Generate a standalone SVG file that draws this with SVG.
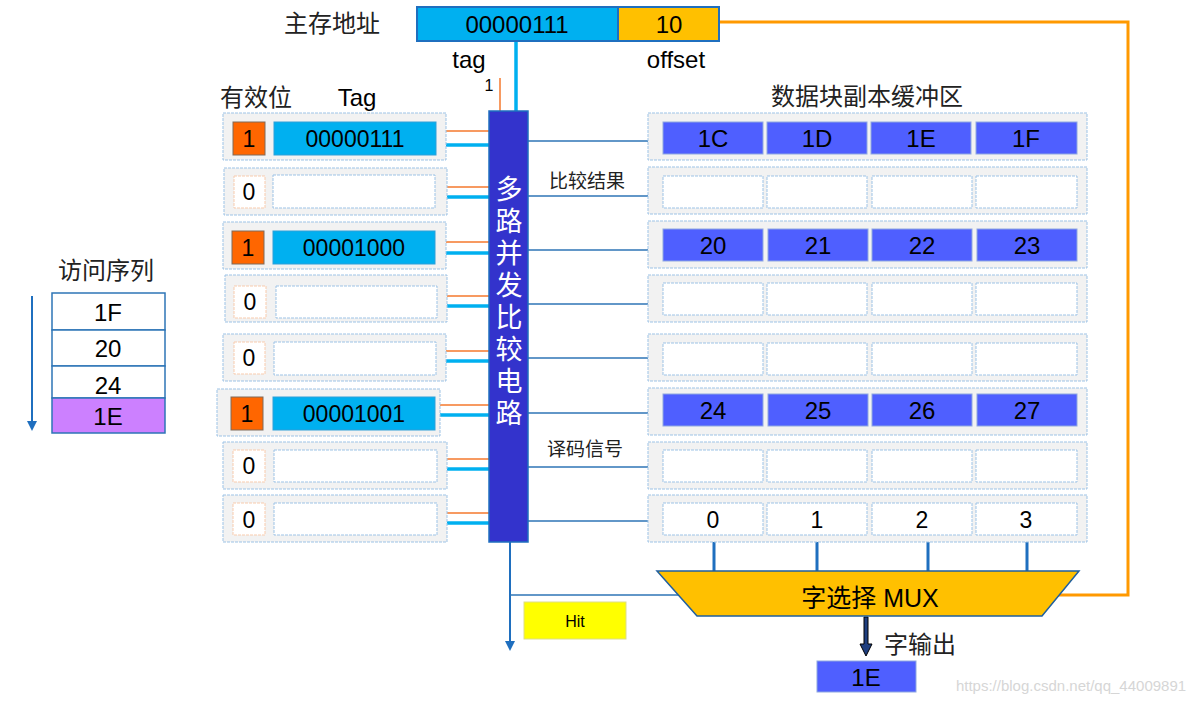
<svg xmlns="http://www.w3.org/2000/svg" width="1201" height="703" viewBox="0 0 1201 703">
<defs>
<style>
text{font-family:"Liberation Sans","Noto Sans CJK SC",sans-serif;fill:#000}
.row{fill:#F2F2F2;stroke:#9DC3E6;stroke-width:1;stroke-dasharray:3 1}
.v1{fill:#FF6600;stroke:#7F6A5A;stroke-width:1}
.v0{fill:#fff;stroke:#F8CBAD;stroke-width:1;stroke-dasharray:3 1}
.tg{fill:#00B0F0;stroke:#2E9FD8;stroke-width:1}
.te{fill:#fff;stroke:#9DC3E6;stroke-width:1;stroke-dasharray:3 1}
.db{fill:#4F5FFF;stroke:#8FA8E0;stroke-width:1}
.de{fill:#fff;stroke:#9DC3E6;stroke-width:1;stroke-dasharray:3 1}
.t20{font-size:23px;text-anchor:middle}
.t22{font-size:24px;text-anchor:middle}
.or{stroke:#F4782C;stroke-width:1.5;fill:none}
.cy{stroke:#00B0F0;stroke-width:3.5;fill:none}
.bl{stroke:#2E75B6;stroke-width:1.5;fill:none}
.cn{font-size:24px;fill:#222;text-anchor:middle}
.sm{font-size:19px;fill:#222;text-anchor:middle}
.w{font-size:27px;fill:#fff;text-anchor:middle}
.wm{font-size:15px;fill:#D6D6D6;text-anchor:middle}
</style>
<marker id="ah" markerWidth="10" markerHeight="10" refX="5" refY="5" orient="auto" markerUnits="userSpaceOnUse">
<path d="M0,0 L10,5 L0,10 z" fill="#1F6FBF"/>
</marker>
</defs>
<rect width="1201" height="703" fill="#fff"/>

<!-- connectors -->
<g id="connectors">
<line class="cy" x1="516" y1="41" x2="516" y2="112" stroke-width="3"/>
<line class="or" x1="500" y1="78" x2="500" y2="112"/>
<polyline points="719,22 1128,22 1128,595 1056,595" fill="none" stroke="#FF9900" stroke-width="3"/>
<g>
<line class="or" x1="436" y1="131" x2="489" y2="131"/><line class="cy" x1="436" y1="145" x2="489" y2="145"/>
<line class="or" x1="436" y1="187" x2="489" y2="187"/><line class="cy" x1="436" y1="197" x2="489" y2="197"/>
<line class="or" x1="436" y1="242" x2="489" y2="242"/><line class="cy" x1="436" y1="253" x2="489" y2="253"/>
<line class="or" x1="436" y1="296" x2="489" y2="296"/><line class="cy" x1="436" y1="306" x2="489" y2="306"/>
<line class="or" x1="436" y1="351" x2="489" y2="351"/><line class="cy" x1="436" y1="361" x2="489" y2="361"/>
<line class="or" x1="436" y1="405" x2="489" y2="405"/><line class="cy" x1="436" y1="415" x2="489" y2="415"/>
<line class="or" x1="436" y1="459" x2="489" y2="459"/><line class="cy" x1="436" y1="469" x2="489" y2="469"/>
<line class="or" x1="436" y1="513" x2="489" y2="513"/><line class="cy" x1="436" y1="523" x2="489" y2="523"/>
</g>
<g>
<line class="bl" x1="528" y1="141" x2="663" y2="141"/>
<line class="bl" x1="528" y1="196" x2="663" y2="196"/>
<line class="bl" x1="528" y1="250" x2="663" y2="250"/>
<line class="bl" x1="528" y1="304" x2="663" y2="304"/>
<line class="bl" x1="528" y1="358" x2="661" y2="358"/>
<line class="bl" x1="528" y1="413" x2="661" y2="413"/>
<line class="bl" x1="528" y1="467" x2="663" y2="467"/>
<line class="bl" x1="528" y1="521" x2="661" y2="521"/>
</g>
<g stroke="#1F6FBF" stroke-width="3">
<line x1="714" y1="542" x2="714" y2="571"/>
<line x1="817" y1="542" x2="817" y2="571"/>
<line x1="928" y1="542" x2="928" y2="571"/>
<line x1="1027" y1="542" x2="1027" y2="571"/>
</g>
<line x1="510" y1="542" x2="510" y2="646" stroke="#1F6FBF" stroke-width="2" marker-end="url(#ah)"/>
<line x1="510" y1="595" x2="690" y2="595" class="bl"/>
<line x1="32" y1="296" x2="32" y2="426" stroke="#1F6FBF" stroke-width="2" marker-end="url(#ah)"/>
<path d="M864,617 L868,617 L868,644 L872,644 L866,656 L860,644 L864,644 Z" fill="#1F3F7F" stroke="#000" stroke-width="1"/>
</g>

<g id="address">
<text x="332" y="32" class="cn">主存地址</text>
<rect x="417" y="7" width="201" height="34" fill="#00B0F0" stroke="#1F6FBF" stroke-width="2"/>
<rect x="618" y="7" width="101" height="34" fill="#FFC000" stroke="#1F6FBF" stroke-width="2"/>
<text x="517" y="33" class="t22">00000111</text>
<text x="669" y="33" class="t22">10</text>
<text x="469" y="68" class="t22">tag</text>
<text x="676" y="68" class="t22">offset</text>
<text x="489" y="91" font-size="16" text-anchor="middle">1</text>
</g>

<g id="headers">
<text x="256" y="106" class="cn">有效位</text>
<text x="357" y="106" class="t22">Tag</text>
<text x="867" y="105" class="cn">数据块副本缓冲区</text>
<text x="587" y="188" class="sm">比较结果</text>
<text x="585" y="456" class="sm">译码信号</text>
</g>

<g id="tag-row-1"><rect class="row" x="223" y="113" width="223" height="47"/><rect class="v1" x="233" y="122" width="32" height="33"/><text x="249" y="147" class="t20">1</text><rect class="tg" x="274" y="122" width="162" height="33"/><text x="355" y="147" class="t20">00000111</text></g>
<g id="tag-row-2"><rect class="row" x="224" y="168" width="223" height="47"/><rect class="v0" x="234" y="176" width="31" height="32"/><text x="249" y="200" class="t20">0</text><rect class="te" x="273" y="175" width="162" height="33"/></g>
<g id="tag-row-3"><rect class="row" x="223" y="222" width="223" height="47"/><rect class="v1" x="232" y="231" width="32" height="33"/><text x="248" y="256" class="t20">1</text><rect class="tg" x="273" y="231" width="162" height="33"/><text x="354" y="256" class="t20">00001000</text></g>
<g id="tag-row-4"><rect class="row" x="225" y="275" width="222" height="47"/><rect class="v0" x="234" y="286" width="32" height="32"/><text x="250" y="310" class="t20">0</text><rect class="te" x="276" y="286" width="161" height="32"/></g>
<g id="tag-row-5"><rect class="row" x="223" y="334" width="223" height="47"/><rect class="v0" x="234" y="342" width="31" height="32"/><text x="249" y="366" class="t20">0</text><rect class="te" x="274" y="342" width="162" height="33"/></g>
<g id="tag-row-6"><rect class="row" x="217" y="389" width="223" height="47"/><rect class="v1" x="231" y="397" width="32" height="33"/><text x="247" y="422" class="t20">1</text><rect class="tg" x="273" y="397" width="162" height="33"/><text x="354" y="422" class="t20">00001001</text></g>
<g id="tag-row-7"><rect class="row" x="223" y="442" width="224" height="47"/><rect class="v0" x="233" y="450" width="32" height="32"/><text x="249" y="474" class="t20">0</text><rect class="te" x="274" y="450" width="163" height="32"/></g>
<g id="tag-row-8"><rect class="row" x="223" y="495" width="224" height="47"/><rect class="v0" x="233" y="503" width="32" height="32"/><text x="249" y="528" class="t20">0</text><rect class="te" x="274" y="503" width="163" height="32"/></g>

<g id="comparator">
<rect x="489" y="111" width="39" height="431" fill="#3333CC" stroke="#1F6FBF" stroke-width="1.5"/>
<text x="509" y="199" class="w">多</text>
<text x="509" y="231" class="w">路</text>
<text x="509" y="263" class="w">并</text>
<text x="509" y="295" class="w">发</text>
<text x="509" y="327" class="w">比</text>
<text x="509" y="359" class="w">较</text>
<text x="509" y="391" class="w">电</text>
<text x="509" y="423" class="w">路</text>
</g>

<g id="data-row-1"><rect class="row" x="648" y="113" width="439" height="47"/>
<rect class="db" x="663" y="122" width="100" height="32"/><rect class="db" x="767" y="122" width="100" height="32"/><rect class="db" x="871" y="122" width="100" height="32"/><rect class="db" x="976" y="122" width="101" height="32"/>
<text x="713" y="147" class="t22">1C</text><text x="817" y="147" class="t22">1D</text><text x="921" y="147" class="t22">1E</text><text x="1026" y="147" class="t22">1F</text></g>
<g id="data-row-2"><rect class="row" x="648" y="167" width="439" height="47"/>
<rect class="de" x="663" y="176" width="100" height="32"/><rect class="de" x="767" y="176" width="100" height="32"/><rect class="de" x="872" y="176" width="100" height="32"/><rect class="de" x="976" y="176" width="101" height="32"/></g>
<g id="data-row-3"><rect class="row" x="648" y="221" width="439" height="47"/>
<rect class="db" x="663" y="229" width="100" height="32"/><rect class="db" x="768" y="229" width="100" height="32"/><rect class="db" x="872" y="229" width="100" height="32"/><rect class="db" x="977" y="229" width="100" height="32"/>
<text x="713" y="254" class="t22">20</text><text x="818" y="254" class="t22">21</text><text x="922" y="254" class="t22">22</text><text x="1027" y="254" class="t22">23</text></g>
<g id="data-row-4"><rect class="row" x="648" y="275" width="439" height="47"/>
<rect class="de" x="663" y="283" width="100" height="32"/><rect class="de" x="767" y="283" width="100" height="32"/><rect class="de" x="872" y="283" width="100" height="32"/><rect class="de" x="976" y="283" width="101" height="32"/></g>
<g id="data-row-5"><rect class="row" x="648" y="334" width="439" height="47"/>
<rect class="de" x="663" y="343" width="100" height="32"/><rect class="de" x="767" y="343" width="100" height="32"/><rect class="de" x="872" y="343" width="100" height="32"/><rect class="de" x="976" y="343" width="101" height="32"/></g>
<g id="data-row-6"><rect class="row" x="648" y="388" width="439" height="47"/>
<rect class="db" x="663" y="394" width="100" height="32"/><rect class="db" x="768" y="394" width="100" height="32"/><rect class="db" x="872" y="394" width="100" height="32"/><rect class="db" x="977" y="394" width="100" height="32"/>
<text x="713" y="419" class="t22">24</text><text x="818" y="419" class="t22">25</text><text x="922" y="419" class="t22">26</text><text x="1027" y="419" class="t22">27</text></g>
<g id="data-row-7"><rect class="row" x="648" y="442" width="439" height="47"/>
<rect class="de" x="663" y="450" width="100" height="32"/><rect class="de" x="767" y="450" width="100" height="32"/><rect class="de" x="872" y="450" width="100" height="32"/><rect class="de" x="976" y="450" width="101" height="32"/></g>
<g id="data-row-8"><rect class="row" x="648" y="495" width="439" height="47"/>
<rect class="de" x="663" y="503" width="100" height="32"/><rect class="de" x="767" y="503" width="100" height="32"/><rect class="de" x="872" y="503" width="100" height="32"/><rect class="de" x="976" y="503" width="101" height="32"/>
<text x="713" y="528" class="t20">0</text><text x="817" y="528" class="t20">1</text><text x="922" y="528" class="t20">2</text><text x="1026" y="528" class="t20">3</text></g>

<g id="sequence">
<text x="106" y="279" class="cn">访问序列</text>
<rect x="52" y="293" width="113" height="37" fill="#fff" stroke="#2E75B6" stroke-width="1.5"/>
<rect x="52" y="330" width="113" height="36" fill="#fff" stroke="#2E75B6" stroke-width="1.5"/>
<rect x="52" y="366" width="113" height="32" fill="#fff" stroke="#2E75B6" stroke-width="1.5"/>
<rect x="52" y="398" width="113" height="35" fill="#CC80FF" stroke="#2E75B6" stroke-width="1.5"/>
<text x="108" y="321" class="t22">1F</text>
<text x="108" y="357" class="t22">20</text>
<text x="108" y="394" class="t22">24</text>
<text x="108" y="425" class="t22">1E</text>
</g>

<g id="mux">
<polygon points="657,571 1079,571 1042,616 697,616" fill="#FFC000" stroke="#1F5F9F" stroke-width="1.5"/>
<text x="870" y="607" font-size="25" text-anchor="middle">字选择 MUX</text>
</g>

<g id="hit">
<rect x="524" y="602" width="102" height="37" fill="#FFFF00" stroke="#DDDD88" stroke-width="1"/>
<text x="575" y="627" font-size="16" text-anchor="middle">Hit</text>
</g>

<g id="output">
<text x="920" y="653" class="cn">字输出</text>
<rect x="817" y="661" width="99" height="31" fill="#4F5FFF" stroke="#8FA8E0" stroke-width="1"/>
<text x="866" y="686" class="t22">1E</text>
</g>

<text x="1071" y="691" class="wm">https://blog.csdn.net/qq_44009891</text>
</svg>
